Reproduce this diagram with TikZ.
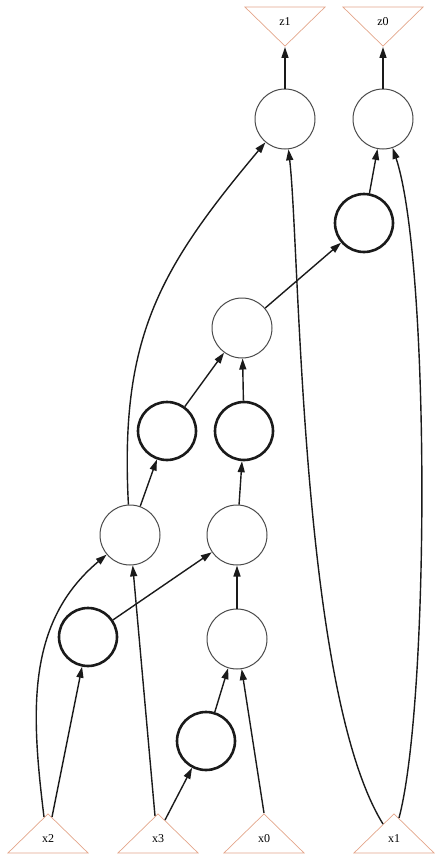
\documentclass[tikz,border=0pt]{standalone}
\usepackage{fontspec}
\setmainfont{Liberation Serif}
\usetikzlibrary{shapes.geometric, arrows.meta, calc}
\definecolor{cnaranja}{HTML}{E3A58A}
\definecolor{cgris}{HTML}{4A4A4A}
\definecolor{cnegro}{HTML}{1A1A1A}
\tikzset{
  nodo/.style={circle, draw=cgris, line width=1pt, minimum size=60pt, inner sep=0pt},
  nodog/.style={circle, draw=cnegro, line width=2.6pt, minimum size=58pt, inner sep=0pt},
  puerto/.style={isosceles triangle, isosceles triangle stretches, draw=cnaranja, line width=0.7pt,
                 minimum width=80pt, minimum height=39pt, inner sep=1pt, font=\fontsize{12}{14}\selectfont},
  entrada/.style={puerto, shape border rotate=90, anchor=apex},
  salida/.style={puerto, shape border rotate=270, anchor=apex},
  flecha/.style={-{Triangle[length=11pt, width=7pt]}, line width=1.4pt, draw=cnegro},
}

\begin{document}
\begin{tikzpicture}[x=1pt, y=-1pt]
  \useasboundingbox (0,0) rectangle (435,859);
  % salidas
  \node[salida] (z1) at (285,47) {z1};
  \node[salida] (z0) at (383,47) {z0};
  % entradas
  \node[entrada] (x2) at (48,813) {x2};
  \node[entrada] (x3) at (158,813) {x3};
  \node[entrada] (x0) at (264,813) {x0};
  \node[entrada] (x1) at (394,813) {x1};
  % nodos ocultos
  \node[nodo] (a) at (285,119) {};
  \node[nodo] (b) at (383,119) {};
  \node[nodog] (c) at (364,223) {};
  \node[nodo] (d) at (242,328) {};
  \node[nodog] (e) at (167,431) {};
  \node[nodog] (f) at (244,431) {};
  \node[nodo] (g) at (130,535) {};
  \node[nodo] (h) at (237,535) {};
  \node[nodog] (i) at (88,637) {};
  \node[nodo] (j) at (237,639) {};
  \node[nodog] (k) at (206,741) {};
  % aristas
  \draw[flecha] ($(x2.apex)+(4,4)$) -- (i);
  \draw[flecha] ($(x2.apex)+(-4,4)$) to[out=97, in=220] (g);
  \draw[flecha] ($(x3.apex)+(-3,3)$) -- (g); \draw[flecha] ($(x3.apex)+(7,7)$) -- (k);
  \draw[flecha] (x0.apex) -- (j);
  \draw[flecha] ($(x1.apex)+(-11,11)$) .. controls (300,690) and (300,250) .. (a);
  \draw[flecha] ($(x1.apex)+(5,5)$) .. controls (430,700) and (430,260) .. (b);
  \draw[flecha] (k) -- (j); \draw[flecha] (j) -- (h); \draw[flecha] (i) -- (h);
  \draw[flecha] (h) -- (f); \draw[flecha] (g) -- (e);
  \draw[flecha] (e) -- (d); \draw[flecha] (f) -- (d); \draw[flecha] (d) -- (c);
  \draw[flecha] (c) -- (b);
  \draw[flecha] (g) to[out=93, in=230, looseness=1.1] (a);
  \draw[flecha] (a) -- (z1.apex); \draw[flecha] (b) -- (z0.apex);
\end{tikzpicture}
\end{document}
